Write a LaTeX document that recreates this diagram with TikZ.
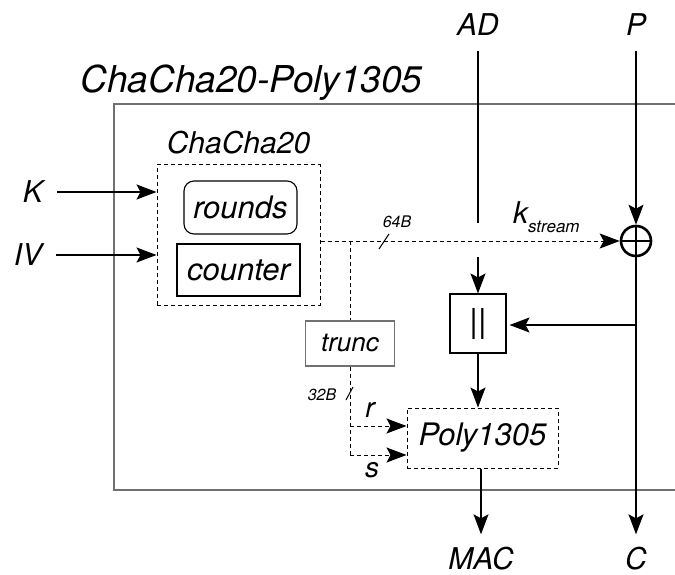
\documentclass[tikz,border=0pt]{standalone}
\usepackage{fontspec}
\setmainfont{TeX Gyre Heros}
\usetikzlibrary{arrows.meta,positioning}
\definecolor{FrameGray}{HTML}{707070}

\begin{document}
\begin{tikzpicture}[x=1pt, y=-1pt,
  lbl/.style={font=\fontsize{30}{30}\selectfont\itshape, inner sep=0pt},
  small/.style={font=\fontsize{16}{16}\selectfont\itshape, inner sep=0pt},
  box/.style={draw, line width=1.1pt, align=center, font=\fontsize{31}{31}\selectfont\itshape, inner sep=0pt},
  dbox/.style={box, dash pattern=on 4pt off 3pt, line width=1pt},
  wire/.style={line width=1.2pt},
  dwire/.style={line width=1pt, dash pattern=on 4pt off 3pt},
  flow/.style={wire, -{Stealth[length=20pt, width=15pt, inset=4pt]}},
  dflow/.style={dwire, -{Stealth[length=20pt, width=15pt, inset=4pt]}}
]
\useasboundingbox (0,0) rectangle (675,575);

% outer frame
\draw[FrameGray, line width=1.5pt] (675,104) -- (114,104) -- (114,490) -- (675,490);
\node[lbl, font=\fontsize{37}{37}\selectfont\itshape, anchor=base] (title) at (251.5,93) {ChaCha20-Poly1305};

% ChaCha20 block
\node[dbox, minimum width=163pt, minimum height=140pt] (chacha) at (238.5,235) {};
\node[lbl, above=10pt of chacha] (chachalbl) {ChaCha20};
\node[box, rounded corners=10pt, minimum width=113pt, minimum height=53pt] (rounds) at (240.5,207.5) {rounds};
\node[box, minimum width=123pt, minimum height=52pt] (counter) at (238.5,270) {counter};

\node[lbl] (key) at (33,192) {K};
\node[lbl] (iv) at (28,255) {IV};
\draw[flow, shorten <=14pt] (key) -- (key -| chacha.west);
\draw[flow, shorten <=14pt] (iv) -- (iv -| chacha.west);

% xor and keystream
\node[draw, circle, line width=2.6pt, minimum size=30pt, inner sep=0pt,
  path picture={\draw[line width=2.4pt] (path picture bounding box.north) -- (path picture bounding box.south)
    (path picture bounding box.west) -- (path picture bounding box.east);}] (xor) at (636,241) {};
\draw[dflow] (chacha.east |- xor) -- (xor);
\node[lbl, anchor=base west] (kst) at (513,223) {k\raisebox{-9pt}{\fontsize{17}{17}\selectfont stream}};
\node[small, anchor=base] (len64) at (397,227) {64B};
\draw[line width=1pt] (379,249) -- (389,234);

% trunc
\coordinate (split) at (350,241);
\node[box, draw=FrameGray, font=\fontsize{26}{26}\selectfont\itshape, minimum width=89pt, minimum height=45pt] (trunc) at (350,343.5) {trunc};
\draw[dwire] (split) -- (trunc);
\node[small, anchor=base] (len32) at (322,400) {32B};
\draw[line width=1pt] (346,400) -- (353,387);

% Poly1305
\node[dbox, minimum width=151pt, minimum height=60pt] (poly) at (482.5,438) {Poly1305};
\coordinate (rsplit) at (350,426);
\coordinate (ssplit) at (350,455);
\draw[dwire] (trunc) -- (ssplit);
\draw[dflow] (rsplit) -- (rsplit -| poly.west);
\draw[dflow] (ssplit) -- (ssplit -| poly.west);
\node[lbl, font=\fontsize{28}{28}\selectfont\itshape] (rlbl) at (370,410) {r};
\node[lbl, font=\fontsize{28}{28}\selectfont\itshape] (slbl) at (372,470) {s};

% concatenation
\node[box, font=\fontsize{33}{33}\selectfont\itshape, minimum width=56pt, minimum height=59pt] (cat) at (478,323.5) {||};
\node[lbl] (ad) at (478,25) {AD};
\coordinate (adgap) at (478,223);
\coordinate (adresume) at (478,257);
\draw[wire, shorten <=15pt] (ad) -- (adgap);
\draw[flow] (adresume) -- (cat);
\draw[flow] (cat) -- (cat |- poly.north);

% plaintext and outputs
\node[lbl] (ptext) at (636,25) {P};
\node[lbl] (ctext) at (636,559) {C};
\node[lbl] (mac) at (481,559) {MAC};
\draw[flow, shorten <=15pt] (ptext) -- (xor);
\draw[flow, shorten >=13pt] (xor) -- (ctext);
\coordinate (ctap) at (636,325);
\draw[flow, shorten >=3pt] (ctap) -- (ctap -| cat.east);
\draw[flow, shorten >=13pt] (poly.south -| mac) -- (mac);
\end{tikzpicture}
\end{document}
